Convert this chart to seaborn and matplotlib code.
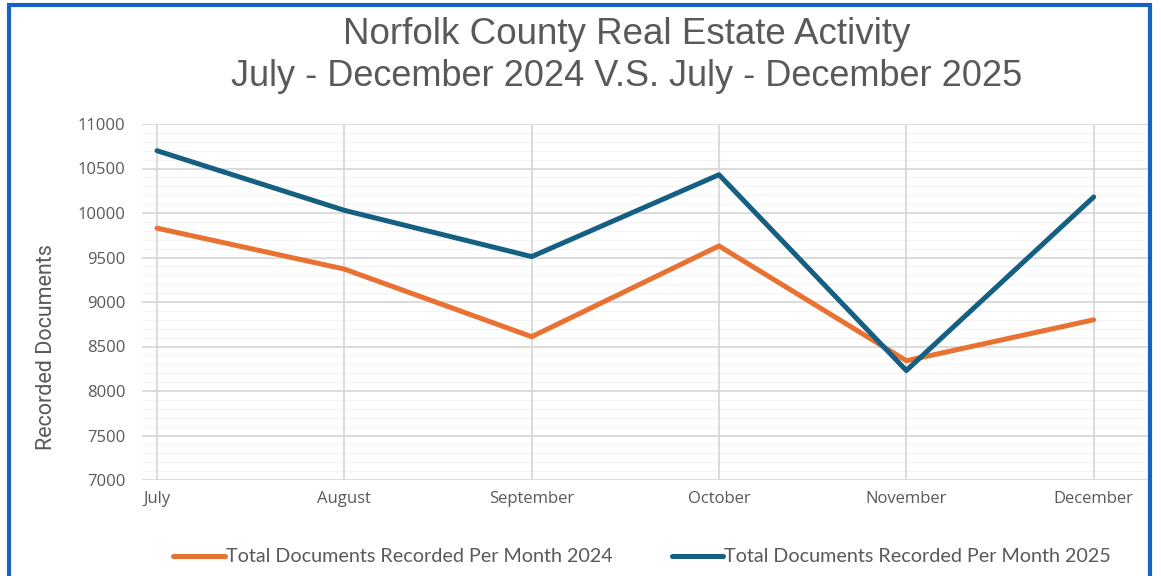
import matplotlib
matplotlib.use('Agg')
import matplotlib.pyplot as plt
import seaborn as sns
import pandas as pd
from matplotlib.patches import Rectangle

# ── Data ──────────────────────────────────────────────────────
months = ['July', 'August', 'September', 'October', 'November', 'December']
docs_2024 = [9830, 9370, 8610, 9630, 8340, 8800]
docs_2025 = [10700, 10030, 9510, 10430, 8230, 10180]
label_2024 = 'Total Documents Recorded Per Month 2024'
label_2025 = 'Total Documents Recorded Per Month 2025'
y_ticks = [7000, 7500, 8000, 8500, 9000, 9500, 10000, 10500, 11000]

df = pd.DataFrame({
    'month_idx': list(range(len(months))) * 2,
    'docs': docs_2024 + docs_2025,
    'series': [label_2024] * len(months) + [label_2025] * len(months),
})

sns.set_style('white')
plt.rcParams['font.family'] = ['Open Sans', 'DejaVu Sans']

GRAY = '#595959'
palette = {label_2024: '#E97132', label_2025: '#156082'}

fig = plt.figure(figsize=(11.61, 5.76), dpi=100)
ax = fig.add_axes([142 / 1161, 1 - 480 / 576, (1148 - 142) / 1161, (480 - 124) / 576])

sns.lineplot(data=df, x='month_idx', y='docs', hue='series', palette=palette,
             linewidth=3.6, ax=ax, legend=False, sort=False, zorder=3)

ax.set_xlim(-0.08, 5.29)
ax.set_ylim(7000, 11000)
ax.set_yticks(y_ticks)
ax.set_yticklabels([str(v) for v in y_ticks], color=GRAY, fontsize=12)
ax.set_xticks(range(len(months)))
ax.set_xticklabels(months, color=GRAY, fontsize=12)
ax.tick_params(axis='y', length=0, pad=12)
ax.tick_params(axis='x', length=0, pad=8)

# faint minor lines under the major grid
ax.hlines(range(7000, 11001, 100), -0.08, 5.29, colors='#f4f4f4',
          linewidth=0.8, zorder=0)
ax.grid(True, which='major', color='#d9d9d9', linewidth=1.3, zorder=1)
ax.set_axisbelow(True)
for s in ax.spines.values():
    s.set_visible(False)

ax.set_xlabel('')
ax.set_ylabel('Recorded Documents', color=GRAY, fontsize=15.5,
              family=['Roboto', 'DejaVu Sans'])
ax.yaxis.set_label_coords(-0.084, 0.374)

fig.text(627 / 1161, 1 - 35 / 576, 'Norfolk County Real Estate Activity',
         ha='center', va='center', fontsize=26.5, color=GRAY,
         family=['Liberation Sans', 'DejaVu Sans'])
fig.text(627 / 1161, 1 - 76 / 576, 'July - December 2024 V.S. July - December 2025',
         ha='center', va='center', fontsize=26, color=GRAY,
         family=['Liberation Sans', 'DejaVu Sans'])

handles = [plt.Line2D([], [], color=palette[label_2024], linewidth=3.6),
           plt.Line2D([], [], color=palette[label_2025], linewidth=3.6)]
fig.legend(handles, [label_2024, label_2025], loc='center',
           bbox_to_anchor=(642 / 1161, 1 - 557 / 576), ncol=2, frameon=False,
           labelcolor=GRAY, handlelength=2.6, handletextpad=0.05,
           columnspacing=3.0, prop={'family': ['Lato', 'DejaVu Sans'], 'size': 14.2})

# blue frame around the chart
fig.patches.append(Rectangle((9 / 1161, -0.05), (1150 - 9) / 1161, 1.05 - 5 / 576,
                             transform=fig.transFigure, fill=False,
                             edgecolor='#1565C0', linewidth=3))

fig.savefig('out.png', dpi=100, facecolor='white')
